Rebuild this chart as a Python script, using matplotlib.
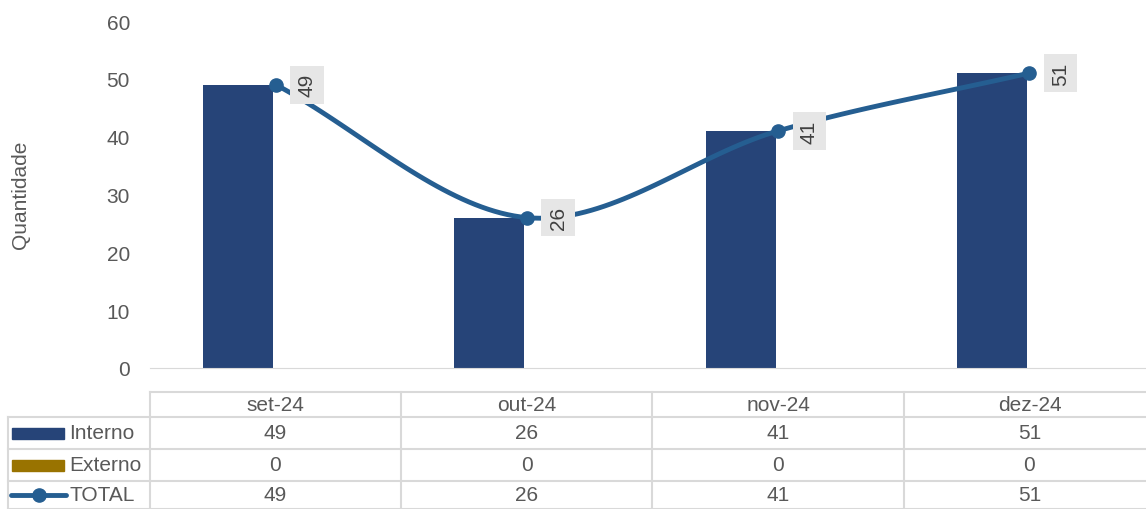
import numpy as np
import matplotlib.pyplot as plt
from matplotlib.lines import Line2D
from matplotlib.patches import Rectangle

plt.rcParams['font.family'] = ['Liberation Sans', 'DejaVu Sans']

# --- data ---
months = ['set-24', 'out-24', 'nov-24', 'dez-24']
interno = [49, 26, 41, 51]
externo = [0, 0, 0, 0]
total = [49, 26, 41, 51]

c_int = '#264478'
c_ext = '#997300'
c_tot = '#255E91'
grey = '#595959'
line_c = '#d9d9d9'
fs = 15

W, H = 1146, 510
fig = plt.figure(figsize=(W / 100, H / 100), dpi=100)
# plot area runs slightly past the right edge of the image, like the source
ax = fig.add_axes([150 / W, 1 - 369 / H, 1005 / W, 347 / H])

x = np.arange(len(months))
bw = 0.279
ax.bar(x - bw / 2 - 0.01, interno, bw, color=c_int)
ax.bar(x + bw / 2 + 0.01, externo, bw, color=c_ext)


def smooth(xs, ys, n=40):
    # Catmull-Rom style smoothing like Excel's smoothed line
    xs = np.asarray(xs, float)
    ys = np.asarray(ys, float)
    px = np.concatenate([[2 * xs[0] - xs[1]], xs, [2 * xs[-1] - xs[-2]]])
    py = np.concatenate([[2 * ys[0] - ys[1]], ys, [2 * ys[-1] - ys[-2]]])
    outx, outy = [], []
    for i in range(1, len(px) - 2):
        t = np.linspace(0, 1, n)
        for arr, out in ((px, outx), (py, outy)):
            p0, p1, p2, p3 = arr[i - 1:i + 3]
            out.extend(0.5 * ((2 * p1) + (-p0 + p2) * t
                              + (2 * p0 - 5 * p1 + 4 * p2 - p3) * t ** 2
                              + (-p0 + 3 * p1 - 3 * p2 + p3) * t ** 3))
    return np.array(outx), np.array(outy)


sx, sy = smooth(x, total)
ax.plot(sx, sy, color=c_tot, lw=3.5, solid_capstyle='round', zorder=3)
ax.plot(x, total, 'o', color=c_tot, ms=9.5, zorder=4)

for xi, v in zip(x, total):
    ax.annotate(str(v), (xi, v), xytext=(22.5, 0), textcoords='offset points',
                rotation=90, ha='center', va='center', fontsize=fs, color='#404040',
                bbox=dict(boxstyle='square,pad=0.35', fc='#e6e6e6', ec='none'),
                zorder=5)

ax.set_xlim(-0.5, 3.5)
ax.set_ylim(0, 60)
ax.set_yticks(range(0, 61, 10))
ax.tick_params(axis='y', length=0, labelsize=fs, labelcolor=grey, pad=14.4)
ax.set_xticks([])
for s in ['top', 'right', 'left']:
    ax.spines[s].set_visible(False)
ax.spines['bottom'].set_color(line_c)
fig.text(21 / W, 1 - 195 / H, 'Quantidade', rotation=90, ha='center', va='center',
         fontsize=fs, color=grey)

# --- data table below the axes ---
col_x = [150, 401, 652, 904, 1155]
row_y = [393, 418, 450, 482, 510]
tx = fig.transFigure


def fx(p):
    return p / W


def fy(p):
    return 1 - p / H


lk = dict(color=line_c, lw=1.5, transform=tx)
# horizontal lines
fig.add_artist(Line2D([fx(150), fx(1146)], [fy(393), fy(393)], **lk))
for yy in row_y[1:]:
    fig.add_artist(Line2D([fx(8), fx(1146)], [fy(yy), fy(yy)], **lk))
# vertical lines
for xx in col_x[:-1]:
    fig.add_artist(Line2D([fx(xx), fx(xx)], [fy(393), fy(510)], **lk))
fig.add_artist(Line2D([fx(8), fx(8)], [fy(418), fy(510)], **lk))

for i, m in enumerate(months):
    cx = (col_x[i] + col_x[i + 1]) / 2
    fig.text(fx(cx), fy(405.5), m, ha='center', va='center', fontsize=fs, color=grey)
    for r, vals in enumerate([interno, externo, total]):
        cy = (row_y[r + 1] + row_y[r + 2]) / 2
        fig.text(fx(cx), fy(cy), str(vals[i]), ha='center', va='center',
                 fontsize=fs, color=grey)

names = ['Interno', 'Externo', 'TOTAL']
for r, name in enumerate(names):
    cy = (row_y[r + 1] + row_y[r + 2]) / 2
    if r < 2:
        fig.add_artist(Rectangle((fx(12), fy(cy + 5.5)), fx(52), 11 / H,
                                 color=[c_int, c_ext][r], transform=tx))
    else:
        fig.add_artist(Line2D([fx(11), fx(66)], [fy(cy), fy(cy)], color=c_tot,
                              lw=3.5, solid_capstyle='round', transform=tx))
        fig.add_artist(Line2D([fx(38.5)], [fy(cy)], marker='o', ms=9.5,
                              color=c_tot, transform=tx))
    fig.text(fx(69), fy(cy), name, ha='left', va='center', fontsize=fs, color=grey)

fig.savefig('out.png', dpi=100)
